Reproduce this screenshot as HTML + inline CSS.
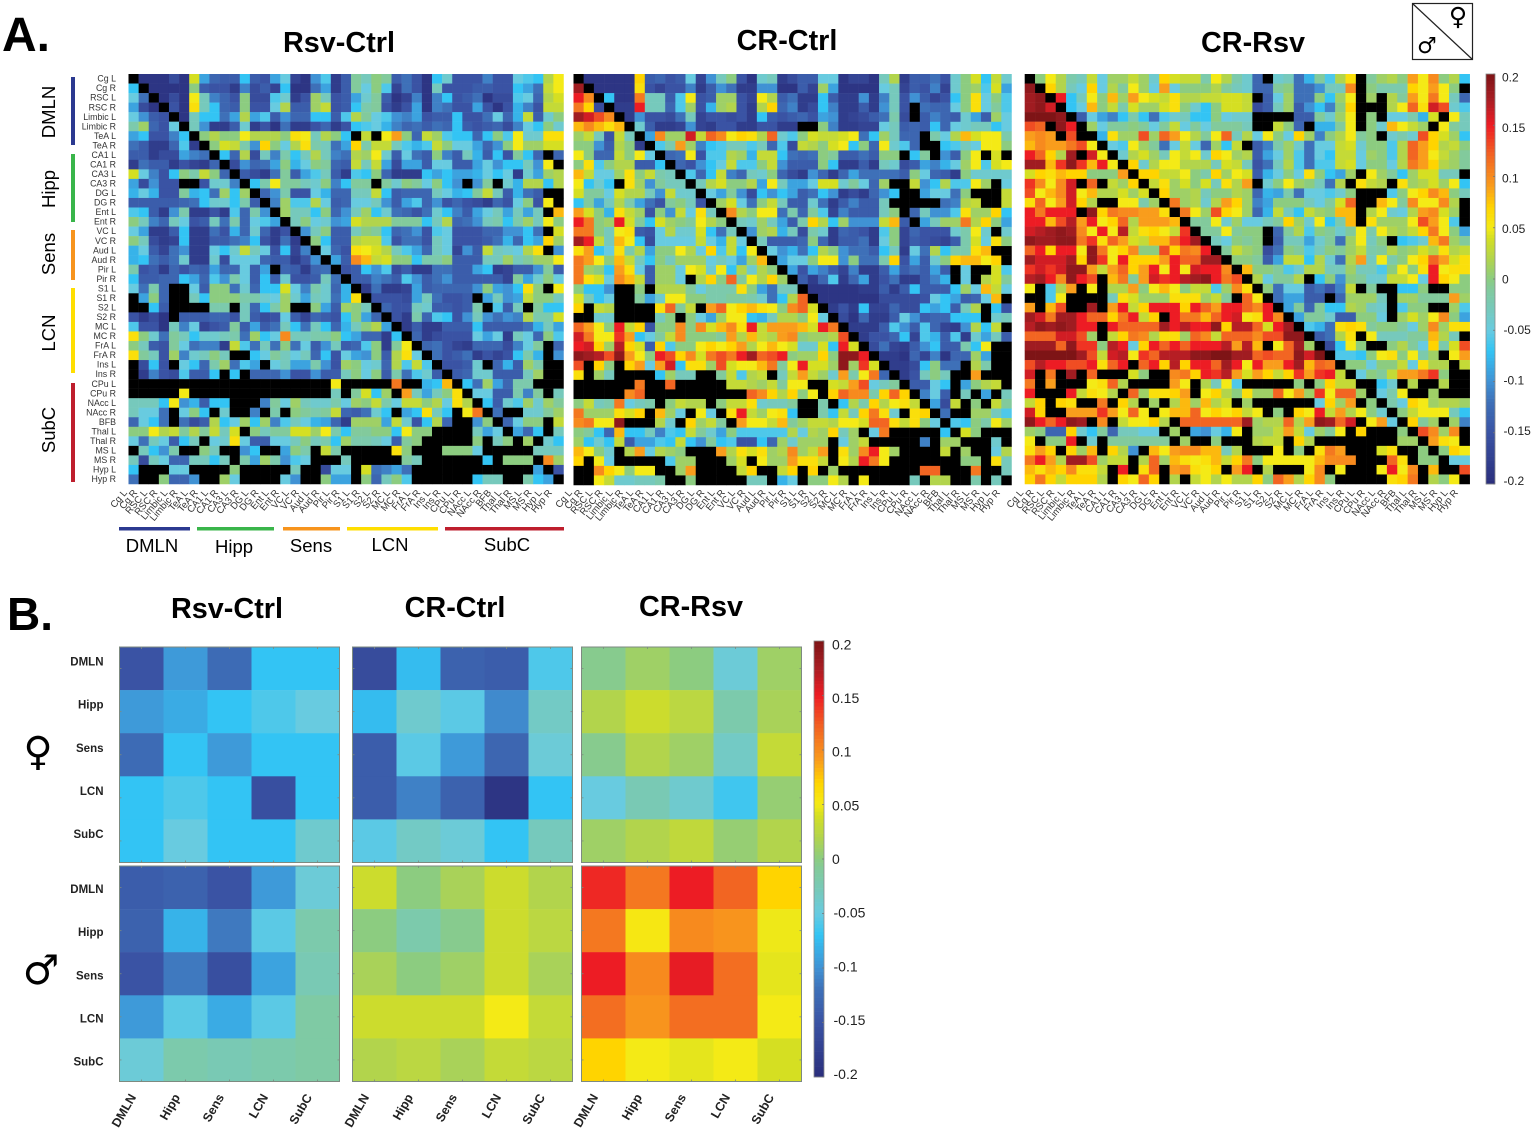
<!DOCTYPE html>
<html lang="en">
<head>
<meta charset="utf-8">
<title>Correlation difference heatmaps</title>
<style>
html,body{margin:0;padding:0;background:#fff;width:1535px;height:1129px;overflow:hidden}
svg{display:block;font-family:"Liberation Sans",Arial,sans-serif}
</style>
</head>
<body>
<svg id="figure" xmlns="http://www.w3.org/2000/svg" width="1535" height="1129" viewBox="0 0 1535 1129">
<text x="2" y="51" font-size="48" font-weight="700">A.</text>
<text x="7" y="630" font-size="46" font-weight="700">B.</text>
<text x="339" y="52" font-size="28.8" font-weight="700" text-anchor="middle">Rsv-Ctrl</text>
<text x="787" y="50" font-size="28.8" font-weight="700" text-anchor="middle">CR-Ctrl</text>
<text x="1253" y="52" font-size="28.8" font-weight="700" text-anchor="middle">CR-Rsv</text>
<text x="227" y="618" font-size="28.8" font-weight="700" text-anchor="middle">Rsv-Ctrl</text>
<text x="455" y="617" font-size="28.8" font-weight="700" text-anchor="middle">CR-Ctrl</text>
<text x="691" y="616" font-size="28.8" font-weight="700" text-anchor="middle">CR-Rsv</text>
<g>
<rect x="1412.5" y="3.5" width="60" height="56" fill="#fff" stroke="#222" stroke-width="1.2"/>
<line x1="1412.5" y1="3.5" x2="1472.5" y2="59.5" stroke="#222" stroke-width="1.2"/>
<text x="1458" y="25" font-size="25" text-anchor="middle" style="font-family:'DejaVu Sans',sans-serif">♀</text>
<text x="1427" y="53" font-size="22" text-anchor="middle" style="font-family:'DejaVu Sans',sans-serif">♂</text>
</g>
<text x="38" y="765" font-size="40" text-anchor="middle" style="font-family:'DejaVu Sans',sans-serif">♀</text>
<text x="41" y="984" font-size="41" text-anchor="middle" style="font-family:'DejaVu Sans',sans-serif">♂</text>
</svg>
<script>
const N = null;
const regionLabels = ['Cg L','Cg R','RSC L','RSC R','Limbic L','Limbic R','TeA L','TeA R','CA1 L','CA1 R','CA3 L','CA3 R','DG L','DG R','Ent L','Ent R','VC L','VC R','Aud L','Aud R','Pir L','Pir R','S1 L','S1 R','S2 L','S2 R','MC L','MC R','FrA L','FrA R','Ins L','Ins R','CPu L','CPu R','NAcc L','NAcc R','BFB','Thal L','Thal R','MS L','MS R','Hyp L','Hyp R'];
const networkLabels = ['DMLN','Hipp','Sens','LCN','SubC'];
const colorbarTicks = [20,15,10,5,0,-5,-10,-15,-20];
const colorbarTickLabels = ['0.2','0.15','0.1','0.05','0','-0.05','-0.1','-0.15','-0.2'];
// All matrix values are correlation differences x 100. N = not significant (black).
const rsvCtrlRows = [
[N,-19,-19,-19,-16,-19,4,-9,-13,-14,-14,-7,-14,-15,-9,-5,-17,-19,-10,-6,-18,-14,-1,-3,0,-1,-14,-12,-15,-19,-7,-4,-15,-15,-15,-11,-15,-15,-5,-6,-7,2,5],
[-7,N,-19,-19,-19,-19,0,-14,-15,-15,-18,-11,-16,-14,-17,-7,-19,-19,-12,-9,-18,-14,-1,-5,0,-6,-17,-12,-15,-19,-3,-15,-15,-15,-14,-14,-15,-15,-7,-9,-12,3,5],
[-5,-12,N,-19,-16,-19,5,-3,-11,-13,-15,0,-16,-16,-6,-4,-18,-15,1,-3,-15,-14,-9,-4,-1,-14,-19,-17,-11,-19,-11,-7,-15,-14,-12,-19,-16,-16,-6,-5,-13,2,4],
[-9,-16,-19,N,-15,-19,6,-3,-7,-13,-14,0,-15,-15,-5,2,-14,-14,1,3,-15,-14,-7,-2,-1,-15,-18,-15,-9,-19,-11,-12,-15,-15,-9,-15,-19,-15,-8,-11,-15,3,3],
[-5,-10,-14,-15,N,-19,-3,-7,-7,-12,-9,2,-9,-6,-14,-10,-13,-13,-7,-7,-14,-6,2,-1,-5,-6,-10,-11,-9,-15,-14,-14,-7,-15,-15,-12,-5,-13,-8,3,-14,-4,0],
[-2,1,-13,-15,-5,N,-3,-10,-18,-18,-14,-4,-18,-15,-19,-12,-18,-18,-15,-13,-18,-15,-7,-6,-5,-8,-11,-13,-12,-14,-12,-13,-7,-14,-15,-14,-13,-16,-11,-5,-7,0,-4],
[-9,-7,-15,-15,-11,-7,N,0,2,0,0,5,2,2,2,0,6,5,-3,2,0,-7,N,3,N,5,9,0,-13,3,1,-6,-7,-7,-13,-7,0,-6,5,-4,-4,6,6],
[-12,-14,-18,-18,-13,-6,-18,N,0,4,3,-2,-10,7,0,-5,2,6,-2,-3,-12,-9,7,-2,3,3,-3,-6,-8,-6,3,0,-5,-5,-9,-13,-10,0,5,1,1,4,4],
[-14,-14,-18,-16,-16,-9,-11,-12,N,-7,-13,2,-16,-3,-11,-2,-7,-3,2,-3,-11,-12,2,1,5,-4,-14,-5,-12,-14,0,-11,-14,-3,-8,-14,-7,-15,-1,-7,-13,N,-13],
[-18,-12,-14,-14,-18,-15,-17,-18,-13,N,-16,-10,-13,-12,-9,0,-8,-5,0,-1,-13,-14,3,-3,3,-9,-16,-9,-9,-14,-5,-5,-14,-14,-9,-5,-10,-7,-7,-3,-10,5,N],
[4,-5,-11,-15,-7,0,-2,3,0,-13,N,-14,-16,-18,-12,-1,-14,-9,-6,-3,-14,-18,-6,-7,0,-13,-18,-18,-18,-7,-9,-7,-9,-9,-8,-5,-7,-5,-18,-4,-9,1,2],
[-9,-16,-10,-15,-15,N,N,-15,-4,-4,-11,N,-7,-2,5,-1,-1,-3,-4,0,-11,-7,-1,-1,N,-1,-4,0,-1,-5,0,-7,-10,N,-10,-1,N,-4,-8,2,2,-7,2],
[-8,-5,-8,-15,-15,-1,-8,-7,-12,1,-7,1,N,-13,-10,-2,-15,-15,-5,-8,-13,-13,-3,-3,3,-7,-14,-13,-13,-13,-3,-5,-8,-7,-1,3,-3,-14,-8,-12,-14,N,N],
[-14,-14,-14,-14,-14,-13,-12,-7,-4,-4,-7,-2,-14,N,-11,1,-6,-6,2,-5,-14,-13,-5,-5,-3,-10,-14,-9,-6,-13,-10,-15,-13,-15,-16,-18,-13,-15,-5,0,-15,5,N],
[-6,-7,-14,-18,-10,-2,-18,-18,-15,-18,-6,-13,-2,-10,N,1,-3,-3,-7,0,-13,-10,-3,1,-7,-4,-12,-13,-15,-12,-4,-7,-11,-14,-9,-5,-3,-9,-3,-9,-3,N,8],
[0,-3,-11,-13,-3,-5,-15,-14,-3,-12,-2,-13,-5,-6,-9,N,-3,0,-5,-4,-10,-9,4,2,2,2,-1,-1,-1,-7,-3,2,-13,-12,-10,-3,-2,-7,-2,1,-3,5,0],
[-5,-9,-18,-18,-14,-7,-18,-18,-12,-15,-8,-13,-4,-13,-18,-15,N,-10,-3,0,-14,-14,-3,0,-1,-7,-13,-12,-10,-15,-6,-5,-15,-15,-15,-13,-13,-10,-10,-7,-12,N,4],
[0,-3,-16,-18,-17,-7,-18,-18,-14,-14,-12,-11,-7,-15,-18,-12,-18,N,0,-7,-14,-14,2,3,3,-6,-15,-12,-12,-15,-3,-5,-15,-15,-15,-14,-12,-8,-13,-7,-9,7,1],
[-8,-5,-14,-17,-12,-10,-18,-18,-5,-7,-4,3,-3,-5,-15,-7,-17,-11,N,-5,-13,-15,6,5,4,2,-3,-6,-9,-13,-3,-5,-17,-10,-14,3,-3,-4,-5,2,6,N,-10],
[-8,-7,-12,-14,-12,-4,-18,-18,-4,-16,-5,-5,-5,-13,-14,-14,-18,-15,-10,N,-9,-14,10,8,3,4,0,0,-7,-2,-2,0,-14,-14,-14,-3,-3,1,-3,-1,1,1,5],
[-2,-15,-14,-18,-13,-15,-13,-14,-9,-13,-13,-5,-14,-9,N,-13,-14,-18,-13,-12,N,-15,-14,-7,-10,-6,-16,-14,-18,-18,-12,-12,-14,-14,-9,-7,-18,-17,-14,-14,-10,-1,-14],
[-7,-14,-14,-13,-13,-7,-9,-13,-6,-10,-2,-5,-14,-7,-14,-4,-15,-15,-14,-3,-12,N,-14,-14,-11,-12,-14,-6,-10,-14,-12,-10,-14,-14,-14,-14,-14,-17,-1,-9,-4,0,-5],
[-5,-12,-2,-13,N,N,-5,-14,0,0,-12,-4,-13,-7,-7,4,-5,-11,-2,-4,-13,-8,N,-18,-12,-18,-18,-17,-9,-14,-13,-13,-13,-13,-10,0,-9,-10,-7,6,0,N,5],
[N,-9,0,-13,N,N,-3,-7,0,0,0,-2,-2,-4,-5,1,-4,-9,-3,-4,-12,-8,6,N,-15,-15,-15,-16,-9,-3,-12,-15,-15,-14,N,-9,-3,-10,-9,3,0,0,-3],
[N,N,-7,-14,N,N,N,N,-2,-2,N,-3,-13,-7,-2,1,N,N,0,-9,-14,1,0,-3,N,-13,-15,-15,-3,-4,-14,-14,-15,-14,-2,N,-6,-14,-3,N,-1,-7,-7],
[-15,-18,-16,-19,N,-14,-14,-14,-13,-13,-15,-3,-14,-16,-15,-5,-14,-17,-13,-14,-15,-7,0,-9,-13,N,-15,-18,-2,-13,-6,-7,-15,-10,-3,-10,-12,-10,-11,2,-2,-2,4],
[-6,-15,-15,-19,-3,-11,-5,-17,-15,-14,-1,-14,-9,-14,-12,-3,-7,-12,-3,-7,-13,-8,-3,0,2,-9,N,-18,-14,-18,-18,-14,-14,-14,-7,-14,-14,-14,-14,-12,-8,-3,-9],
[6,0,-4,-12,-1,-3,-7,-4,-4,-3,-2,-12,1,-7,-5,10,-3,-3,-2,-2,0,-7,-9,-13,-13,-18,-7,N,-13,-18,-16,-15,-15,-15,-5,-9,-5,-18,-3,-5,-13,0,-6],
[0,-3,-14,-15,-1,-5,-12,-11,-11,-18,3,-6,-12,-3,-12,0,-12,-5,-14,-10,-3,-14,-13,-6,0,-18,-1,5,N,-13,-12,-15,-17,-18,-13,-13,-13,-16,-11,-5,-1,N,-13],
[6,-1,-3,-15,1,-11,-4,-3,0,-3,N,N,-7,-5,-1,-3,-5,-3,-13,-7,-15,-5,-9,-10,0,-14,2,6,-5,N,-12,-15,-14,-12,-18,-15,-17,-15,-7,-2,-8,N,-10],
[N,-16,-7,-15,N,-5,-7,-13,-2,1,-12,-6,-9,N,-5,-3,-9,-9,-2,-10,-15,1,0,-5,-4,-13,2,-6,3,-6,N,-15,-15,-14,-4,N,-13,-8,-14,1,-2,N,N],
[N,-18,-11,-15,-16,-6,-14,-14,-7,N,-7,N,-13,-13,-13,-10,-15,-15,-10,-14,-14,-3,0,-5,0,-14,-2,-12,-6,-4,-14,N,-14,-13,-4,-4,-14,-14,-14,-3,1,N,N],
[N,N,N,N,N,N,N,N,N,N,N,N,N,N,N,N,N,N,N,N,5,N,N,N,N,N,11,N,N,-8,-7,8,N,-7,-12,1,-9,-13,-2,-2,N,N,N],
[N,N,N,N,N,5,N,N,N,N,N,N,N,N,N,N,N,N,N,N,-3,N,-1,4,-7,1,N,9,-3,-9,-3,0,6,N,-5,-5,-14,-14,-2,-11,-1,N,-3],
[-3,-3,-3,-7,5,-10,-8,-14,-7,-7,N,N,N,-11,-1,-5,1,-3,-4,-4,-2,-5,1,0,3,-2,-5,3,3,0,2,-5,6,2,N,-7,-14,-4,-6,1,-4,1,-1],
[-3,-5,-5,-12,N,-5,0,-7,N,-4,N,N,-11,N,-2,N,0,-1,-2,-1,3,-13,-14,-12,-4,-7,N,-9,-7,6,-3,-7,N,5,11,N,-12,N,N,-4,-4,-1,1],
[-13,-5,-7,-12,N,-12,-16,-14,2,-7,-5,1,-7,1,-11,-6,-3,-5,-8,-9,-13,-18,1,1,1,-9,3,-4,-15,-7,2,-13,N,N,-10,0,N,-13,-5,0,0,N,3],
[0,0,5,2,3,-1,2,-1,3,-3,4,N,0,-3,-1,-1,4,4,1,5,-2,-7,-1,-1,0,0,-7,5,0,0,N,N,N,N,-3,-9,-5,N,-9,-13,-7,N,-3],
[-5,-12,-3,-5,-14,-7,-3,N,-5,-4,6,-5,-14,-14,-5,-5,-3,0,-3,-2,-7,1,-2,-2,-3,-5,-14,-1,0,N,N,N,N,N,0,N,-3,0,N,1,N,-4,-7],
[N,-3,-7,-10,-2,N,N,0,-3,N,N,-10,-7,N,N,-9,0,-2,N,3,-2,N,N,N,N,N,6,0,N,N,N,0,0,0,-5,N,N,N,N,N,-3,-3,-3],
[-3,-16,-3,-5,-13,-13,-3,-3,-7,-3,N,-2,-9,1,-2,-10,-6,-5,N,N,N,-3,N,N,N,N,N,-1,-3,N,N,N,N,N,N,-7,N,0,0,0,N,10,1],
[-7,N,N,N,-5,-5,N,N,N,N,0,N,N,N,N,N,-3,N,N,-16,-5,-5,N,4,-12,-11,-9,-12,N,N,N,N,N,N,N,N,N,N,N,N,-9,N,-15],
[-12,N,N,0,-13,-13,-10,N,N,1,-5,N,N,N,N,-5,-10,N,N,0,-9,-9,N,0,-13,-3,0,-6,N,N,N,N,N,N,-7,-3,-3,N,N,-2,-7,-9,N]
];
const crCtrlRows = [
[N,-19,-19,-19,-19,-19,7,-14,-13,-15,-14,-5,-17,-10,-3,0,-15,-19,-4,-3,-18,-16,-14,-14,-5,-5,-19,-17,-17,-19,-3,2,-18,-14,-14,-12,-15,-4,0,4,-7,3,-4],
[18,N,-19,-19,-19,-19,6,-15,-17,-15,-15,-11,-18,-14,-10,-12,-18,-18,-10,-10,-19,-19,-14,-17,1,-9,-19,-19,-19,-19,-5,-3,-17,-14,-15,-11,-17,-4,0,1,-6,4,-9],
[15,10,N,-7,-19,-19,11,-3,-3,-14,-6,5,-15,-14,1,1,-15,-17,5,2,-14,-12,-18,-18,-7,-14,-18,-18,-10,-18,-11,-3,-15,-10,-14,-17,-15,-7,0,6,-5,0,-6],
[11,7,-16,N,-18,-18,15,-3,-3,-13,-6,1,-15,-8,1,2,-15,-18,2,7,-13,-11,-18,-16,-7,-11,-18,-18,-14,-18,-10,-3,-15,N,-12,-13,-13,-5,0,6,-5,-1,-6],
[18,16,13,10,N,-18,-10,-15,-15,-16,-12,-3,-17,-15,-15,-16,-15,-18,-7,-14,-15,-14,-13,-15,-9,-10,-18,-17,-16,-14,-12,-2,-16,N,-14,-11,-13,-14,-4,-9,-14,1,-5],
[8,10,8,6,8,N,-4,-14,-18,-18,-17,-10,-17,-18,-15,-15,-18,-18,-15,-15,-18,-18,N,N,0,-11,-18,-18,-17,-17,-5,-3,-14,-13,-14,-7,-13,-5,-4,-3,-3,-7,-5],
[1,3,-3,-15,3,-3,N,-9,10,1,1,16,3,12,10,5,7,6,2,12,-4,-6,0,4,3,3,4,5,-12,-7,1,-3,-13,-13,N,-2,-5,2,8,4,5,5,-2],
[0,0,-10,-14,2,0,-18,N,-6,-2,9,1,-11,-7,-6,-3,-3,-6,-3,-13,-6,-16,3,2,0,4,5,-7,0,-13,5,-4,-6,-13,N,N,-7,-6,-3,-5,5,5,0],
[5,0,-13,-13,3,0,5,-5,N,-13,-12,5,-15,-6,-6,2,1,-8,3,3,-7,-12,-13,-12,0,-1,-14,-14,-12,-14,0,0,N,-7,-1,N,-10,-14,0,5,N,4,N],
[0,6,-6,0,2,2,-14,-14,-7,N,-13,-15,-10,-7,-5,3,-6,-6,0,3,-10,-14,-14,-14,0,-7,-18,-18,-14,-18,-3,-4,-16,-14,-9,-11,-8,-5,1,5,-6,4,5],
[8,3,-5,-5,1,6,0,3,-2,-3,N,-6,-13,-7,3,-11,-13,-3,-4,0,-13,-16,-18,-10,-13,-18,-13,-9,-12,-12,-12,-12,-14,0,-5,-13,-14,-18,0,-4,-4,-4,-4],
[5,-7,-4,-7,N,6,1,-10,-1,-3,-3,N,-3,2,4,0,0,2,-9,5,-3,-9,-9,-5,4,4,-4,-1,-5,-13,1,N,N,3,-10,-7,2,-6,-6,5,1,N,-5],
[4,-1,-1,-5,4,2,2,-3,-10,3,-4,-4,N,-5,-9,-1,-10,-16,-7,-10,-7,-9,-14,-12,-7,-10,-18,-16,-18,-13,-10,-7,N,N,-9,-5,-5,-12,0,N,N,N,3],
[-7,-1,-9,-3,2,-2,-9,-12,-15,-1,0,-3,-15,N,1,4,-5,-12,0,3,-3,-14,-14,-4,-12,-18,-14,-11,-14,-14,-3,N,N,N,N,N,-12,-11,2,3,N,N,3],
[9,4,0,-8,6,3,1,-15,0,-10,3,-5,6,-3,N,10,2,0,5,5,-12,-2,-13,-1,-6,-17,-11,-14,-14,-14,-3,0,N,-13,-3,-10,-10,-6,6,1,1,7,-7],
[15,11,0,1,15,4,-1,-7,4,1,0,-1,5,2,0,N,-3,-4,1,-3,-9,-14,-2,7,2,-7,1,-10,-10,-10,3,8,-14,N,-9,-3,1,1,11,2,7,0,-9],
[11,11,0,-3,5,6,-14,-15,-5,2,-4,-4,4,-7,-12,-3,N,-10,1,2,-8,-3,-16,-2,-4,-18,-13,-14,-15,-18,-6,0,-17,-13,-15,-15,-15,-4,-2,5,-4,N,-4],
[18,15,3,-3,8,5,-7,-16,-5,-5,-5,-5,3,-5,-8,3,-5,N,-3,-14,-14,-14,-13,0,-13,-18,-14,-14,-12,-18,-5,0,-17,-14,-15,-16,-17,-14,-2,4,-5,6,0],
[6,9,-7,-5,6,-2,2,-9,0,0,5,2,-5,7,-6,3,-7,5,N,-5,-10,-8,-12,-7,2,0,-10,-12,-12,-14,-7,-3,-18,-5,-12,2,-7,-2,-2,6,8,N,N],
[11,9,5,0,8,3,-3,-7,0,-3,1,1,1,-5,-3,-5,-9,1,8,N,-9,-5,-5,0,5,5,-10,0,-12,-12,-2,7,-15,-9,-14,-4,0,7,8,8,5,7,N],
[11,1,0,-7,9,6,-5,-14,1,1,-5,5,4,-4,5,-7,2,-4,2,0,N,-9,-15,-9,-11,-14,-17,-11,-18,-18,-14,-9,-14,-12,-14,-9,-14,N,-5,N,N,4,-6],
[11,6,4,-5,10,8,3,-14,1,1,-5,N,2,7,0,12,-1,5,2,7,1,N,-14,-18,-13,-6,-18,-13,-9,-18,-15,-12,-18,-18,-14,-11,-8,N,-5,N,2,4,-1],
[0,-7,-7,-10,N,N,0,N,2,2,2,-1,-5,-2,-2,-2,6,0,-9,-12,-3,-3,N,-19,-19,-19,-19,-19,-18,-18,-14,-18,-14,-7,-14,-14,-14,-7,1,-5,8,3,-5],
[4,-3,-7,-5,N,N,-1,-9,-4,5,5,0,0,-2,-2,-1,-1,-2,-4,-12,-7,2,12,N,-19,-19,-19,-19,-19,-19,-16,-16,-16,-16,-15,-5,-7,-9,-14,-13,-5,8,N],
[7,N,3,2,N,N,N,N,6,12,-1,3,N,9,12,5,7,8,6,5,0,10,12,4,N,-18,-15,-18,-7,-17,-17,-13,-16,-16,-7,-9,-7,-14,-3,2,N,-7,-15],
[N,N,-4,-4,N,N,N,N,-3,0,N,0,-5,-9,1,5,5,-7,-8,-3,2,2,0,5,-5,N,-16,-19,-13,-18,-18,-14,-5,-10,-14,-13,-13,-7,-7,-7,N,-4,-3],
[12,9,5,0,15,3,7,-15,0,0,10,0,10,4,8,10,6,15,3,9,9,9,8,4,15,11,N,-18,-18,-18,-14,-6,-10,-14,-6,-13,-17,-18,-10,2,-7,3,N],
[16,11,5,5,14,9,-7,-5,-1,3,10,0,0,0,-1,9,2,8,3,2,9,10,0,1,1,2,13,N,-18,-15,-15,-13,-7,-17,-6,-8,-14,-6,-18,-4,-9,-3,-14],
[15,16,7,1,17,7,4,-14,7,-6,0,0,5,7,5,7,9,2,5,8,5,4,-4,-4,4,-7,15,4,N,-16,-12,-17,-18,-14,-10,-7,-14,-14,-2,-7,5,N,N],
[19,18,17,13,19,9,5,0,15,13,7,10,4,11,13,11,15,18,12,13,15,0,1,1,7,0,19,19,15,N,-18,-18,-19,-13,-17,-11,-19,-13,-13,1,-9,N,N],
[13,N,7,0,N,7,9,-5,9,16,-7,6,6,1,13,4,5,5,8,11,-1,5,15,4,4,1,19,1,14,4,N,-18,-18,-16,-7,0,-12,-12,N,2,-2,N,N],
[6,N,1,-3,N,N,N,N,-7,1,-3,-3,N,N,-1,3,-6,2,3,N,-3,3,9,3,1,-4,9,-2,5,11,-13,N,-18,-15,-3,0,-3,N,N,9,N,N,N],
[N,N,N,N,N,N,11,N,N,12,N,N,N,N,N,3,3,2,1,3,-1,5,5,N,N,4,3,9,13,-5,-3,-1,N,-14,-14,-5,-7,N,-9,0,2,3,N],
[N,N,N,N,N,10,12,N,N,N,N,N,N,N,N,N,N,12,10,7,2,7,0,5,N,7,12,10,10,-2,7,12,7,N,-11,-5,-14,N,-3,N,-9,N,-3],
[0,3,-3,-2,11,-5,-3,-2,N,0,3,2,2,N,0,3,3,6,-4,-3,-3,-1,N,N,-2,N,-7,2,-2,7,2,5,6,3,N,-9,-16,3,N,0,N,3,-1],
[11,1,1,1,6,4,7,N,8,1,-5,N,5,-5,N,6,15,3,1,5,6,-7,N,N,-2,-7,3,-3,7,11,6,-4,N,6,7,N,-12,N,N,1,1,-3,-6],
[10,11,5,5,19,N,N,N,2,-4,N,7,1,3,-1,N,9,5,5,3,8,-1,1,3,3,2,5,5,4,12,12,6,3,6,0,-5,N,-6,-7,0,-2,5,1],
[0,-1,-7,-13,8,-7,-7,-3,-11,-6,-7,3,-1,-4,-9,0,-6,-6,-6,-6,-6,2,-5,2,1,7,-3,1,N,-5,11,N,N,N,N,N,-7,N,4,0,N,N,N],
[1,-7,-4,-7,3,-14,-9,-9,-6,-7,3,-7,-10,-1,-7,-6,-15,-15,-7,-13,1,-4,1,1,1,N,-5,1,3,N,N,N,N,N,-11,N,1,1,N,N,N,-4,N],
[8,5,0,-4,N,2,9,-5,2,1,0,N,N,N,9,2,6,4,6,1,2,10,1,3,9,N,6,1,10,15,5,1,N,N,N,N,3,N,1,N,N,-5,2],
[7,N,5,-5,N,N,N,N,N,-6,1,1,N,N,N,1,4,N,5,1,1,9,6,6,3,N,5,2,15,11,5,N,N,N,N,N,N,N,0,0,N,6,-3],
[N,N,10,7,5,0,5,5,N,N,1,9,N,N,N,N,3,7,N,N,3,7,N,7,N,1,N,N,N,N,N,N,N,N,12,12,N,N,N,11,N,N,-3],
[N,N,5,3,-4,-4,-3,-3,-2,N,N,0,N,N,N,N,N,-3,-3,N,-8,-5,N,0,0,5,2,N,5,N,N,N,N,-3,N,2,2,N,N,-2,N,-3,N]
];
const crRsvRows = [
[N,0,5,2,-2,-3,3,-5,1,1,3,1,-4,7,4,3,3,-2,5,2,-2,-4,-13,N,-4,-3,-12,-8,-1,-6,2,6,N,-1,1,2,0,9,5,10,0,2,-7],
[19,N,7,2,-3,-5,7,-5,2,-1,5,1,-5,9,-5,0,0,0,2,-1,-3,-4,-13,-13,-1,0,-12,-12,-10,-3,-3,10,N,0,-2,-2,-2,7,5,9,5,0,N],
[18,19,N,15,-7,-3,5,0,8,1,9,5,4,3,6,2,2,3,3,4,4,3,N,-14,-5,1,-12,-12,0,-7,1,5,N,1,N,2,-1,9,5,11,5,-3,-13],
[18,19,16,N,-7,-5,8,0,3,-2,4,1,1,4,6,0,-4,-7,0,4,4,3,-16,-14,-3,1,-14,-10,-7,-11,0,7,N,N,N,2,5,12,6,16,13,-4,-6],
[20,20,20,19,N,-14,-5,-9,-11,-7,-2,-7,-12,-6,-4,-3,-7,-7,0,-5,-4,-4,N,N,N,N,-14,-14,-1,-4,1,5,N,0,N,-5,-5,-2,-8,4,N,5,-3],
[13,12,N,19,15,N,1,-5,-1,-1,0,-1,-5,-1,3,-5,-1,-5,-1,-1,-1,-3,N,N,3,0,-13,N,-8,-8,-1,5,N,0,-4,8,5,3,1,N,5,-1,-3],
[9,10,9,N,13,N,N,-8,6,1,1,13,1,12,9,5,2,-1,5,12,-3,2,-5,5,0,-5,7,1,-11,0,2,5,-1,0,N,-4,-2,-4,13,7,4,1,-7],
[8,10,9,9,11,13,5,N,-5,-6,5,1,-1,-12,-5,3,-5,-13,1,-7,3,N,-14,-11,-2,1,-4,-12,-5,-5,3,4,-4,0,0,-6,2,12,9,7,2,3,0],
[15,12,7,2,18,N,16,5,N,-4,2,4,1,-3,5,3,5,-4,7,5,1,2,-14,-9,-5,1,-6,-12,-5,-7,3,3,-5,1,0,-6,2,12,9,5,3,1,-1],
[18,18,8,14,19,14,8,15,5,N,7,-4,2,5,5,2,2,2,-3,4,3,-3,-15,-12,-3,2,-6,-12,-6,-6,3,4,-5,0,0,-5,2,11,9,7,2,1,-1],
[4,7,6,8,7,7,0,0,0,9,N,7,7,3,3,5,0,-2,7,1,5,4,-14,-8,-5,0,-5,6,0,-7,-9,1,N,5,1,-1,-7,1,4,4,-3,-3,N],
[14,10,5,10,16,N,12,N,3,1,7,N,3,6,1,4,0,4,-3,6,2,9,N,-4,0,5,1,0,-3,-12,2,N,6,3,2,N,6,1,2,4,1,5,-7],
[13,5,8,10,16,5,8,2,2,4,1,4,N,7,1,1,2,-3,0,0,2,1,-13,-8,-9,-2,-12,-5,-5,-6,-4,0,N,N,N,-6,0,5,7,10,8,0,-3],
[6,12,5,9,16,7,2,N,N,5,5,-2,1,N,11,1,2,-4,2,9,7,1,-11,-9,0,0,0,-3,-5,-1,4,12,N,N,8,5,-1,10,5,5,10,2,N],
[15,11,15,15,15,N,19,7,11,10,10,9,9,6,N,11,5,1,13,7,5,1,-13,-8,3,-3,-7,3,1,0,8,8,N,2,5,-4,-5,2,9,10,4,1,N],
[15,15,8,13,17,9,15,5,7,12,2,9,9,9,8,N,-1,-1,5,-4,1,-5,-5,-3,-1,7,1,-4,5,-7,-2,8,N,6,1,1,1,5,13,9,5,-6,N],
[16,17,18,19,18,10,5,15,5,17,3,6,7,5,3,14,N,-1,-1,5,-1,0,0,N,-13,-1,2,-6,0,-1,-4,-1,5,-2,5,2,1,3,7,11,5,0,-9],
[19,18,18,19,19,11,14,6,12,9,4,3,8,8,12,15,18,N,-3,-5,0,-1,0,N,-14,-3,-3,-9,-4,-1,-12,1,5,-3,0,N,-7,-6,-4,8,11,1,-1],
[12,15,7,15,15,5,19,11,5,7,10,0,0,13,7,11,10,15,N,-1,3,1,0,-16,-12,0,-1,-6,-3,0,-1,1,3,-2,-1,2,0,1,4,2,6,2,3],
[18,16,16,16,18,7,19,14,5,15,7,7,7,9,15,12,12,18,18,N,0,0,-1,-14,-9,3,3,-7,2,-4,-12,2,9,-3,5,-2,0,5,7,12,9,4,6],
[14,16,14,16,19,19,9,3,9,12,7,9,15,5,15,5,16,15,15,10,N,8,0,0,-1,-6,-4,2,2,-3,-3,1,-3,-3,-6,0,5,0,6,15,5,6,6],
[17,18,15,10,19,15,13,N,8,11,-1,9,16,14,15,17,18,19,15,11,13,N,2,-5,-1,-1,2,N,-7,0,-10,0,-1,-4,-4,3,3,5,-5,15,7,5,0],
[5,N,-6,2,9,N,5,N,2,2,9,0,5,8,5,0,3,3,-6,1,10,6,N,0,-12,-5,-5,-14,-12,-15,-11,3,N,-1,N,N,-7,-7,0,N,N,0,0],
[N,N,-6,5,N,N,N,N,-3,6,4,1,1,1,6,6,6,1,3,-1,N,12,5,N,-12,-9,-9,-14,-14,N,-13,1,1,1,-3,N,1,1,-1,-1,-1,9,1],
[9,N,8,13,N,N,18,N,9,15,3,7,15,15,15,7,15,12,9,15,15,12,10,15,N,-9,-1,-13,-1,-7,-7,2,1,-3,-4,N,-6,0,0,N,N,1,-6],
[18,16,11,18,18,15,12,12,7,11,15,3,7,N,15,11,11,8,12,15,16,5,6,15,10,N,-9,-1,-1,-4,-14,-14,0,0,-5,N,1,4,1,5,10,0,-9],
[17,19,18,19,18,15,15,N,15,12,12,12,12,18,15,17,15,15,19,7,17,17,12,4,15,18,N,-6,-8,-12,6,7,6,-1,0,0,-1,-5,1,10,1,6,6],
[12,12,12,16,16,13,1,N,3,7,11,10,2,6,6,1,12,10,3,12,12,12,10,13,13,19,19,N,-14,-12,2,6,N,5,-3,-3,-3,-1,-1,8,2,-3,N],
[18,18,18,12,19,14,14,0,17,15,-5,7,15,12,15,12,15,15,15,17,9,17,8,N,5,12,18,1,N,-16,-7,5,0,N,N,0,2,-1,-5,7,-2,4,13],
[20,20,20,20,20,18,13,3,16,17,5,14,12,17,17,17,19,19,20,20,18,18,12,13,12,12,19,16,20,N,-6,-6,-7,0,5,6,0,5,-2,1,N,5,9],
[13,17,15,15,13,13,15,6,12,15,N,12,15,7,17,7,15,15,12,18,15,5,15,9,9,15,18,8,12,11,N,0,0,-5,0,0,3,-5,6,2,2,N,3],
[16,N,11,N,18,N,12,N,N,N,4,0,N,N,10,11,7,15,14,17,9,4,9,7,3,7,14,9,14,15,3,N,-5,0,-1,3,9,9,11,14,0,N,N],
[11,N,9,N,N,N,5,6,12,2,N,N,N,N,9,5,N,2,-3,5,-6,N,N,N,N,N,0,N,0,7,3,3,N,N,-7,-4,N,2,N,N,2,N,N],
[15,N,N,N,15,3,6,5,2,N,12,1,6,6,7,9,N,5,7,2,0,6,1,1,12,5,9,1,14,5,12,12,1,N,-5,-2,5,N,N,1,N,N,N],
[3,7,N,7,6,N,N,11,N,7,2,N,1,N,2,8,1,8,2,4,N,1,N,N,N,N,N,N,-5,7,1,9,N,0,N,-2,-5,7,5,1,2,2,1],
[16,7,N,N,9,9,9,14,9,5,12,5,N,5,8,8,12,5,7,5,7,3,5,N,0,N,7,5,15,3,9,2,5,0,-4,N,0,3,5,5,5,-3,-7],
[19,15,12,15,19,18,N,10,N,3,5,5,7,2,N,12,12,12,12,12,12,18,1,2,2,12,2,9,19,18,12,16,N,5,9,-5,N,7,-1,1,N,1,-11],
[1,0,-13,-13,7,-4,-7,-1,-13,-3,-3,-5,-5,N,1,N,-9,-10,-5,-8,5,N,1,1,3,9,3,-5,1,-1,5,N,7,N,N,N,0,N,13,10,1,10,N],
[5,N,0,0,15,N,-4,N,-1,-1,-1,-1,-1,-1,N,1,N,N,0,N,N,N,2,3,3,N,7,2,N,N,N,N,N,N,N,N,1,1,N,9,6,5,N],
[6,9,7,N,7,1,8,N,7,2,-10,N,8,5,9,10,10,8,8,-3,2,N,N,N,5,N,0,N,6,11,9,N,N,N,4,6,N,N,0,N,0,7,5],
[11,15,9,2,18,18,13,1,3,3,N,2,12,1,8,6,5,6,8,3,7,11,0,5,5,5,5,5,8,10,10,10,N,N,N,12,6,N,0,0,N,-5,-5],
[8,6,8,7,10,6,6,3,N,15,N,6,12,N,9,10,6,5,7,N,9,15,N,2,N,N,N,5,10,N,5,N,N,N,5,15,5,10,N,8,N,N,13],
[7,11,7,3,7,7,7,2,N,7,5,12,7,N,2,N,3,5,2,5,2,2,7,0,12,9,2,7,10,0,N,N,N,N,N,6,7,11,N,2,0,5,N]
];
const femaleRsvCtrl = [[-15,-9.5,-12.5,-7,-7],[-9.5,-8.5,-7,-6,-5],[-12.5,-7,-9.5,-7,-7],[-7,-6,-7,-15.5,-7],[-7,-5,-7,-7,-4]];
const maleRsvCtrl = [[-14,-13.5,-15,-9.5,-4.5],[-13.5,-8,-11.5,-5.5,-2],[-15,-11.5,-15.5,-9,-2.5],[-9.5,-5.5,-8.5,-5.5,-1.5],[-4.5,-2,-2.5,-2,-1.5]];
const femaleCrCtrl = [[-16,-7.5,-13.5,-14,-6],[-7.5,-4,-5.5,-10.5,-3.5],[-14,-5.5,-9.5,-13,-4.5],[-14,-11,-13.5,-19,-7],[-5.5,-3.5,-4.5,-7,-3]];
const maleCrCtrl = [[3.5,0,1.5,3.5,2],[0,-2,-0.5,3.5,2.5],[1.5,0,1,3.5,1.5],[3.5,3.5,3.5,5,3],[2,2.5,1.5,3,2.5]];
const femaleCrRsv = [[-0.5,1,0,-4.5,1],[2,3.5,2.5,-2,1.5],[-0.5,2,1,-3.5,3],[-5,-2.5,-4,-6.5,0.5],[1,2,2.8,0.5,2]];
const maleCrRsv = [[14.5,11,15,12,7],[11,5.3,10,9.5,4.8],[15,10,15.2,11.5,4.5],[11.5,9.5,11.5,11.5,5],[7,5,4.5,5,4]];

const svg = document.getElementById('figure');
const NS = 'http://www.w3.org/2000/svg';
const colorStops = [[-20,[42,46,124]],[-15,[58,83,164]],[-12,[62,112,184]],[-10,[64,146,212]],[-7,[51,196,244]],[-5,[104,203,224]],[-3,[118,201,188]],[-1,[130,202,156]],[0,[140,204,128]],[2,[178,212,76]],[4,[213,223,34]],[5,[244,234,22]],[7,[255,212,0]],[9,[249,157,28]],[12,[242,101,34]],[15,[237,28,36]],[17.5,[168,30,36]],[20,[126,20,22]]];
function colorOf(value) {
  if (value === null || value === undefined) return '#000';
  const v = Math.max(-20, Math.min(20, value));
  for (let i = 1; i < colorStops.length; i++) {
    if (v <= colorStops[i][0]) {
      const a = colorStops[i - 1], b = colorStops[i];
      const t = (v - a[0]) / (b[0] - a[0]);
      const c = a[1].map((x, k) => Math.round(x + (b[1][k] - x) * t));
      return 'rgb(' + c.join(',') + ')';
    }
  }
  return 'rgb(126,20,22)';
}
function make(tag, attrs, parent) {
  const el = document.createElementNS(NS, tag);
  for (const k in attrs) el.setAttribute(k, attrs[k]);
  (parent || svg).appendChild(el);
  return el;
}
function drawHeatmap(name, rows, x0, y0, w, h) {
  const g = make('g', {});
  
  
  const nR = rows.length;
  const nC = rows[0].length;
  const xScale = i => x0 + i * w / nC;
  const yScale = j => y0 + j * h / nR;
  rows.forEach((row, j) => row.forEach((v, i) => {
    const rect = make('rect', {x: xScale(i).toFixed(2), y: yScale(j).toFixed(2), width: (w / nC + 0.25).toFixed(2), height: (h / nR + 0.25).toFixed(2), fill: colorOf(v)}, g);
    
    
  }));
  return {xScale, yScale};
}
function addText(name, str, x, y, size, opts) {
  const t = make('text', Object.assign({x: x, y: y, 'font-size': size}, opts || {}));
  t.textContent = str;
  
  
  return t;
}
// Panel A heatmaps
const panelsA = [
  {name: 'heatmap-a-rsv-ctrl', rows: rsvCtrlRows, x: 128.5, y: 74, w: 435, h: 410},
  {name: 'heatmap-a-cr-ctrl', rows: crCtrlRows, x: 573.5, y: 74, w: 438, h: 411},
  {name: 'heatmap-a-cr-rsv', rows: crRsvRows, x: 1024.7, y: 74, w: 445, h: 410}
];
panelsA.forEach((p, idx) => {
  drawHeatmap(p.name, p.rows, p.x, p.y, p.w, p.h);
  regionLabels.forEach((lab, i) => {
    const cx = p.x + (i + 0.5) * p.w / regionLabels.length - 6;
    addText('column-label', lab, 0, 0, 9.6, {'text-anchor': 'end', fill: '#333', transform: 'translate(' + cx.toFixed(1) + ',493) rotate(-50)'});
    if (idx === 0) {
      const cy = p.y + (i + 0.5) * p.h / regionLabels.length + 2.9;
      addText('row-label', lab, 116, cy.toFixed(1), 8.8, {'text-anchor': 'end', fill: '#333'});
    }
  });
});
// Network group bars
const groupColors = ['#2b3990','#39b54a','#f7941d','#ffde00','#be1e2d'];
const sideBars = [[77,145,112],[154,222,189],[230,280,254],[288,373,333],[383,482,430]];
const bottomBars = [[119,190,152,552],[197,274,234,553],[283,340,311,552],[347,438,390,551],[445,564,507,551]];
networkLabels.forEach((lab, i) => {
  const s = sideBars[i], b = bottomBars[i];
  const r1 = make('rect', {x: 71, y: s[0], width: 4, height: s[1] - s[0], fill: groupColors[i]});
  
  
  addText('side-group-label', lab, 0, 0, 18.5, {'text-anchor': 'middle', transform: 'translate(55,' + s[2] + ') rotate(-90)'});
  const r2 = make('rect', {x: b[0], y: 527, width: b[1] - b[0], height: 3.5, fill: groupColors[i]});
  
  
  addText('bottom-group-label', lab, b[2], b[3], 18.5, {'text-anchor': 'middle'});
});
// Panel B heatmaps
const panelsB = [
  {name: 'heatmap-b-rsv-ctrl', x: 119.5, f: femaleRsvCtrl, m: maleRsvCtrl},
  {name: 'heatmap-b-cr-ctrl', x: 352.5, f: femaleCrCtrl, m: maleCrCtrl},
  {name: 'heatmap-b-cr-rsv', x: 581.5, f: femaleCrRsv, m: maleCrRsv}
];
const panelBWidth = 220;
const panelBFemaleY = 647, panelBMaleY = 866, panelBHeight = 215.5;
panelsB.forEach((p, idx) => {
  [[p.f, panelBFemaleY, 'female', -3], [p.m, panelBMaleY, 'male', 5.5]].forEach(spec => {
    const sc = drawHeatmap(p.name + '-' + spec[2], spec[0], p.x, spec[1], panelBWidth, panelBHeight);
    const frame = make('rect', {x: p.x, y: spec[1], width: panelBWidth, height: panelBHeight, fill: 'none', stroke: '#7d8a80', 'stroke-width': 1});
    
    
    for (let i = 0; i < 5; i++) {
      const tx = sc.xScale(i + 0.5), ty = sc.yScale(i + 0.5);
      [[tx, spec[1], tx, spec[1] + 2], [tx, spec[1] + panelBHeight, tx, spec[1] + panelBHeight - 2], [p.x, ty, p.x + 2, ty], [p.x + panelBWidth, ty, p.x + panelBWidth - 2, ty]].forEach(c => {
        const tick = make('line', {x1: c[0], y1: c[1], x2: c[2], y2: c[3], stroke: '#7d8a80', 'stroke-width': 0.8});
        
        
      });
    }
    if (idx === 0) {
      networkLabels.forEach((lab, i) => {
        addText('network-row-label', lab, 103.5, (sc.yScale(i + 0.5) + spec[3]).toFixed(1), 11.5, {'text-anchor': 'end', 'font-weight': 700, fill: '#222'});
      });
    }
  });
  networkLabels.forEach((lab, i) => {
    const cx = p.x + (i + 0.5) * panelBWidth / 5 - 5;
    addText('network-column-label', lab, 0, 0, 12.5, {'text-anchor': 'end', 'font-weight': 700, fill: '#222', transform: 'translate(' + cx.toFixed(1) + ',1097) rotate(-60)'});
  });
});
// Colorbars
function drawColorbar(name, x, y, w, h, labelX, fontSize) {
  const g = make('g', {});
  
  
  const steps = 120;
  const yOf = v => y + (20 - v) / 40 * h;
  const labelY = v => y + h / 2 + (yOf(v) - y - h / 2) * 0.985;
  for (let i = 0; i < steps; i++) {
    const v = 20 - (i + 0.5) * 40 / steps;
    const seg = make('rect', {x: x, y: (y + i * h / steps).toFixed(2), width: w, height: (h / steps + 0.3).toFixed(2), fill: colorOf(v)}, g);
    
    
  }
  const frame = make('rect', {x: x, y: y, width: w, height: h, fill: 'none', stroke: '#8a8a8a', 'stroke-width': 0.8}, g);
  
  
  colorbarTicks.forEach((t, i) => {
    const tick = make('line', {x1: x + w - 2, y1: yOf(t), x2: x + w, y2: yOf(t), stroke: '#777', 'stroke-width': 0.8}, g);
    
    
    const dx = t < 0 ? 1.5 : 0;
    const lbl = colorbarTickLabels[i];
    addText('colorbar-tick-label', lbl, labelX + dx, (labelY(t) + fontSize * 0.36).toFixed(1), fontSize, {fill: '#222'});
  });
}
drawColorbar('colorbar-a', 1486, 74, 9, 410, 1502, 12);
drawColorbar('colorbar-b', 814, 641, 10, 436, 832, 14);
</script>
</body>
</html>
